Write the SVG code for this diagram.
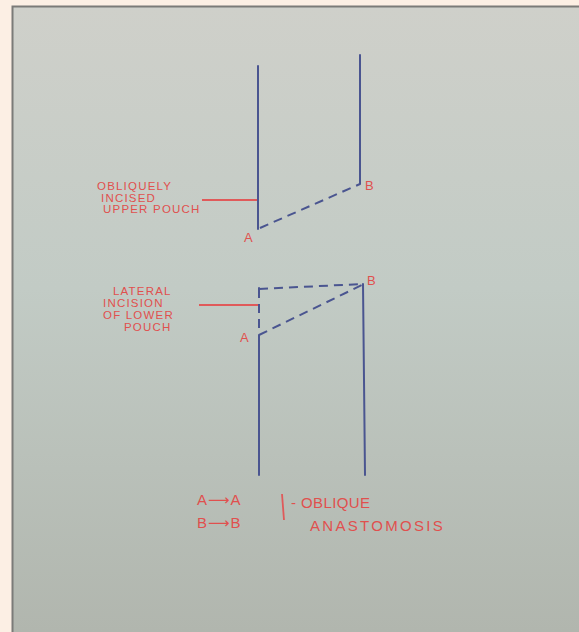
<svg xmlns="http://www.w3.org/2000/svg" width="579" height="632" viewBox="0 0 579 632">
<style>
.ink{stroke:#4a5590;stroke-width:2;fill:none;stroke-linecap:round}
.dash{stroke:#4a5590;stroke-width:2;fill:none;stroke-dasharray:9,6}
.lead{stroke:#e05a5a;stroke-width:1.8;fill:none}
.lbl{font-family:"Liberation Sans",Arial,sans-serif;fill:#e0504e;font-size:11.5px;letter-spacing:1.2px}
.pt{font-family:"Liberation Sans",Arial,sans-serif;fill:#e0504e;font-size:13px}
.big{font-family:"Liberation Sans",Arial,sans-serif;fill:#e0504e;font-size:15px}
.arr{font-family:"DejaVu Sans",sans-serif;font-size:15px}
</style>
<defs>
<linearGradient id="bg" x1="0" y1="0" x2="0" y2="1">
<stop offset="0" stop-color="#cfd0ca"/>
<stop offset="0.45" stop-color="#c2cbc5"/>
<stop offset="1" stop-color="#b1b6ae"/>
</linearGradient>
</defs>
<rect x="0" y="0" width="579" height="632" fill="#fcefe4"/>
<rect x="12" y="6" width="567" height="626" fill="url(#bg)"/>
<path d="M12.5 632V6.5H579" stroke="#7b7b78" stroke-width="2" fill="none"/>
<g id="connectors">
<line class="lead" x1="202" y1="200" x2="258" y2="200"/>
<line class="lead" x1="199" y1="305" x2="258" y2="305"/>
<line class="dash" x1="260" y1="228" x2="360" y2="184"/>
<line class="dash" x1="259" y1="289" x2="362" y2="284"/>
<line class="dash" x1="259" y1="335" x2="362" y2="285"/>
<line class="dash" x1="259" y1="289" x2="259" y2="333"/>
</g>
<g id="upper-pouch">
<line class="ink" x1="258" y1="66" x2="258" y2="229"/>
<line class="ink" x1="360" y1="55" x2="360" y2="184"/>
<text class="pt" x="244" y="242">A</text>
<text class="pt" x="365" y="190">B</text>
</g>
<g id="lower-pouch">
<line class="ink" x1="259" y1="335" x2="259" y2="475"/>
<line class="ink" x1="363" y1="284" x2="365" y2="475"/>
<line class="ink" x1="259" y1="288" x2="259" y2="292"/>
<text class="pt" x="240" y="342">A</text>
<text class="pt" x="367" y="285">B</text>
</g>
<g id="label-upper">
<text class="lbl" x="97" y="190">OBLIQUELY</text>
<text class="lbl" x="101" y="202">INCISED</text>
<text class="lbl" x="103" y="213">UPPER POUCH</text>
</g>
<g id="label-lower">
<text class="lbl" x="113" y="295">LATERAL</text>
<text class="lbl" x="103" y="307">INCISION</text>
<text class="lbl" x="103" y="319">OF LOWER</text>
<text class="lbl" x="124" y="331">POUCH</text>
</g>
<g id="legend">
<text class="big" x="197" y="505">A<tspan class="arr" dx="1">⟶</tspan><tspan dx="1">A</tspan></text>
<text class="big" x="197" y="528">B<tspan class="arr" dx="1">⟶</tspan><tspan dx="1">B</tspan></text>
<line class="lead" x1="282" y1="494" x2="284" y2="520" stroke-width="2"/>
<text class="big" x="291" y="508" style="letter-spacing:0.4px">- OBLIQUE</text>
<text class="big" x="310" y="531" style="letter-spacing:2.3px">ANASTOMOSIS</text>
</g>
</svg>
